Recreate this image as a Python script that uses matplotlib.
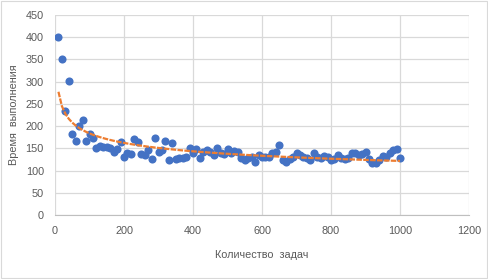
import matplotlib
matplotlib.use("Agg")
import matplotlib.pyplot as plt
import numpy as np

# количество задач и время выполнения
tasks = list(range(10, 1001, 10))
times = [400, 351, 234, 301, 182, 167, 200, 214, 167, 182,
         173, 150, 155, 152, 153, 151, 142, 148, 164, 131,
         140, 138, 170, 165, 137, 135, 147, 126, 173, 142,
         146, 166, 124, 162, 126, 128, 128, 131, 150, 139,
         148, 128, 142, 146, 142, 135, 150, 140, 138, 148,
         140, 145, 142, 128, 124, 128, 131, 119, 135, 131,
         130, 131, 140, 142, 158, 124, 119, 126, 130, 140,
         136, 131, 128, 124, 140, 130, 128, 133, 130, 124,
         126, 135, 128, 126, 128, 140, 140, 135, 138, 142,
         126, 117, 117, 124, 133, 130, 140, 146, 148, 128]

x_ticks = [0, 200, 400, 600, 800, 1000, 1200]
y_ticks = [0, 50, 100, 150, 200, 250, 300, 350, 400, 450]

plt.rcParams['font.family'] = ['Liberation Sans', 'DejaVu Sans']

fig = plt.figure(figsize=(4.88, 2.79), dpi=100)
ax = fig.add_axes([55 / 488, 1 - 215 / 279, 414 / 488, 200 / 279])

ax.scatter(tasks, times, s=34, color='#4472C4', zorder=3, linewidths=0)

# степенная линия тренда, как в Excel
x = np.array(tasks, dtype=float)
b, log_a = np.polyfit(np.log(x), np.log(times), 1)
ax.plot(x, np.exp(log_a) * x ** b, color='#ED7D31', lw=1.6,
        linestyle=(0, (2.5, 0.6)), zorder=4)

ax.set_xlim(0, 1200)
ax.set_ylim(0, 450)
ax.set_xticks(x_ticks)
ax.set_yticks(y_ticks)
ax.grid(True, color='#D9D9D9', lw=0.9)
ax.set_axisbelow(True)
for side in ['top', 'right', 'left']:
    ax.spines[side].set_visible(False)
ax.spines['bottom'].set_color('#BFBFBF')
ax.tick_params(length=0, labelsize=7.8, colors='#595959', pad=8)

ax.set_xlabel('Количество  задач', fontsize=7.8, color='#595959', labelpad=10)
ax.set_ylabel('Время  выполнения', fontsize=7.8, color='#595959', labelpad=5)

fig.patches.append(plt.Rectangle((0.003, 0.004), 0.994, 0.992, transform=fig.transFigure,
                                 fill=False, edgecolor='#D9D9D9', lw=0.8))

fig.savefig('out.png', dpi=100)
